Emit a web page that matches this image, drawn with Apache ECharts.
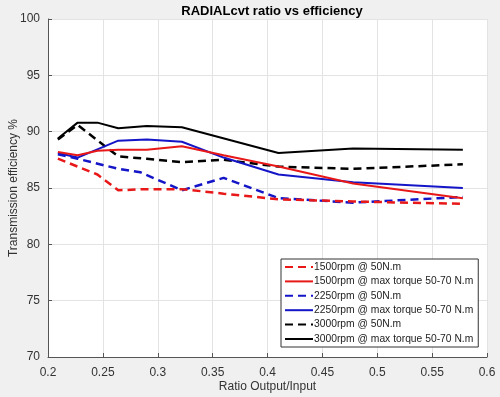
<!DOCTYPE html>
<html>
<head>
<meta charset="utf-8">
<script src="https://cdn.jsdelivr.net/npm/echarts@6/dist/echarts.min.js"></script>
<style>
  html, body { margin: 0; padding: 0; background: #f0f0f0; }
  #chart { width: 500px; height: 397px; }
</style>
</head>
<body>
<div id="chart"></div>
<script>
// ratio (x) / efficiency (y) pairs
const rpm1500_50 = [[0.209, 87.6], [0.245, 86.2], [0.264, 84.8], [0.29, 84.9], [0.322, 84.9], [0.36, 84.5], [0.41, 84.0], [0.478, 83.8], [0.578, 83.6]]
const rpm1500_max = [[0.209, 88.2], [0.227, 87.9], [0.245, 88.3], [0.264, 88.4], [0.29, 88.4], [0.322, 88.7], [0.36, 87.9], [0.41, 86.9], [0.478, 85.4], [0.578, 84.1]]
const rpm2250_50 = [[0.209, 88.0], [0.227, 87.6], [0.264, 86.7], [0.284, 86.4], [0.322, 84.8], [0.36, 85.9], [0.41, 84.1], [0.478, 83.7], [0.578, 84.2]]
const rpm2250_max = [[0.209, 88.1], [0.227, 87.7], [0.264, 89.2], [0.29, 89.3], [0.322, 89.1], [0.36, 87.7], [0.41, 86.2], [0.478, 85.5], [0.578, 85.0]]
const rpm3000_50 = [[0.209, 89.3], [0.227, 90.6], [0.264, 87.8], [0.29, 87.6], [0.322, 87.3], [0.36, 87.5], [0.41, 86.9], [0.478, 86.7], [0.578, 87.1]]
const rpm3000_max = [[0.209, 89.4], [0.227, 90.8], [0.245, 90.8], [0.264, 90.3], [0.29, 90.5], [0.322, 90.4], [0.41, 88.1], [0.478, 88.5], [0.578, 88.4]]

const seriesNames = [
  '1500rpm @ 50N.m',
  '1500rpm @ max torque 50-70 N.m',
  '2250rpm @ 50N.m',
  '2250rpm @ max torque 50-70 N.m',
  '3000rpm @ 50N.m',
  '3000rpm @ max torque 50-70 N.m'
]
const seriesData = [rpm1500_50, rpm1500_max, rpm2250_50, rpm2250_max, rpm3000_50, rpm3000_max]
const seriesColors = ['#e81818', '#e81818', '#1515c8', '#1515c8', '#000000', '#000000']
const dashed = [true, false, true, false, true, false]

const font = 'Liberation Sans, Arial, sans-serif'
const chart = echarts.init(document.getElementById('chart'))

chart.setOption({
  backgroundColor: '#f0f0f0',
  animation: false,
  title: {
    text: 'RADIALcvt ratio vs efficiency',
    left: 267,
    textAlign: 'center',
    top: 0,
    textStyle: { fontFamily: font, fontSize: 13, fontWeight: 'bold', color: '#000' }
  },
  grid: {
    left: 48, right: 13, top: 19, bottom: 40,
    outerBoundsMode: 'none',
    show: true, backgroundColor: '#ffffff', borderWidth: 0
  },
  legend: {
    orient: 'vertical',
    left: 281, top: 259,
    itemWidth: 28, itemHeight: 12, itemGap: 4.4,
    padding: [3, 5, 3, 3],
    backgroundColor: '#ffffff',
    borderColor: '#333', borderWidth: 1,
    itemStyle: { opacity: 0 },
    textStyle: { fontFamily: font, fontSize: 10.3, color: '#222', padding: [0, 0, 0, -4] },
    data: seriesNames
  },
  xAxis: {
    type: 'value',
    min: 0.2, max: 0.6, interval: 0.05,
    name: 'Ratio Output/Input',
    nameLocation: 'middle', nameGap: 24, nameMoveOverlap: false,
    nameTextStyle: { fontFamily: font, fontSize: 12, color: '#333' },
    axisLine: { show: true, lineStyle: { color: '#555' } },
    axisTick: { show: true, inside: true, length: 4, lineStyle: { color: '#555' } },
    axisLabel: { fontFamily: font, fontSize: 12, color: '#333', margin: 10 },
    splitLine: { show: true, lineStyle: { color: '#e3e3e3' } }
  },
  yAxis: {
    type: 'value',
    min: 70, max: 100, interval: 5,
    name: 'Transmission efficiency %',
    nameLocation: 'middle', nameGap: 28, nameMoveOverlap: false,
    nameTextStyle: { fontFamily: font, fontSize: 12, color: '#333' },
    axisLine: { show: true, lineStyle: { color: '#555' } },
    axisTick: { show: true, inside: true, length: 4, lineStyle: { color: '#555' } },
    axisLabel: { fontFamily: font, fontSize: 12, color: '#333', margin: 8 },
    splitLine: { show: true, lineStyle: { color: '#e3e3e3' } }
  },
  series: seriesNames.map((name, i) => ({
    name: name,
    type: 'line',
    data: seriesData[i],
    symbol: 'none',
    color: seriesColors[i],
    lineStyle: {
      color: seriesColors[i],
      width: dashed[i] ? 2.5 : 2,
      type: dashed[i] ? [8, 5] : 'solid'
    },
    z: 10 - i
  }))
})
</script>
</body>
</html>
